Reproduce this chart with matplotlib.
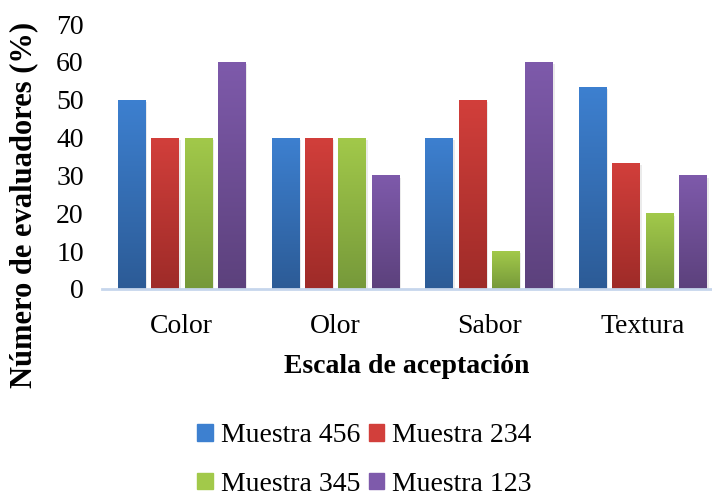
import matplotlib.pyplot as plt
import numpy as np
from matplotlib.colors import LinearSegmentedColormap
from matplotlib.patches import Patch

plt.rcParams['font.family'] = ['Liberation Serif', 'DejaVu Serif']

# datos
categorias = ['Color', 'Olor', 'Sabor', 'Textura']
muestras = ['Muestra 456', 'Muestra 234', 'Muestra 345', 'Muestra 123']
m456 = [50, 40, 40, 53.3]
m234 = [40, 40, 50, 33.3]
m345 = [40, 40, 10, 20]
m123 = [60, 30, 60, 30]
series = [m456, m234, m345, m123]

# colores (arriba, abajo) para el degradado
colores = [('#3d80d0', '#2c5b96'),
           ('#d23f3b', '#9e2b28'),
           ('#a2c94a', '#76993a'),
           ('#7e5aab', '#5c417c')]

fig = plt.figure(figsize=(7.12, 5), dpi=100)
ax = fig.add_axes([0.143, 0.422, 0.857, 0.53])

x = np.arange(len(categorias))
ancho = 0.18
paso = 0.217
grad = np.linspace(1, 0, 256).reshape(-1, 1)

for i, (vals, (c_top, c_bot)) in enumerate(zip(series, colores)):
    pos = x + (i - 1.5) * paso
    cmap = LinearSegmentedColormap.from_list('g%d' % i, [c_bot, c_top])
    barras = ax.bar(pos, vals, width=ancho, color=c_top, zorder=2)
    for b in barras:
        # sombra suave
        ax.bar(b.get_x() + b.get_width() / 2 + 0.012, b.get_height(), width=ancho,
               bottom=-0.6, color='#000000', alpha=0.08, zorder=1)
        im = ax.imshow(grad, cmap=cmap, aspect='auto', zorder=3,
                       extent=[b.get_x(), b.get_x() + b.get_width(), 0, b.get_height()])
        im.set_clip_path(b)

ax.set_xlim(-0.52, 3.45)
ax.set_ylim(0, 70)
ax.set_yticks(range(0, 71, 10))
ax.set_xticks(x)
ax.set_xticklabels(categorias)
ax.tick_params(axis='both', length=0, labelsize=20)
ax.tick_params(axis='y', pad=13)
ax.tick_params(axis='x', pad=18)
for s in ['top', 'right', 'left']:
    ax.spines[s].set_visible(False)
ax.spines['bottom'].set_color('#c6d6ec')
ax.spines['bottom'].set_linewidth(2)
ax.spines['bottom'].set_zorder(4)

ax.set_xlabel('Escala de aceptación', fontsize=20, fontweight='bold', labelpad=11)
ax.set_ylabel('Número de evaluadores (%)', fontsize=22, fontweight='bold')
ax.yaxis.set_label_coords(-0.105, 0.317)

# orden por columnas para que las filas queden 456/234 y 345/123
orden = [0, 2, 1, 3]
handles = [Patch(facecolor=colores[k][0], edgecolor=colores[k][0]) for k in orden]
etiquetas = [muestras[k] for k in orden]
fig.legend(handles, etiquetas, loc='center', bbox_to_anchor=(0.512, 0.08), ncol=2,
           frameon=False, fontsize=20, handlelength=0.55, handleheight=0.55,
           handletextpad=0.3, columnspacing=0.3, labelspacing=0.85)

plt.savefig('out.png', dpi=100)
